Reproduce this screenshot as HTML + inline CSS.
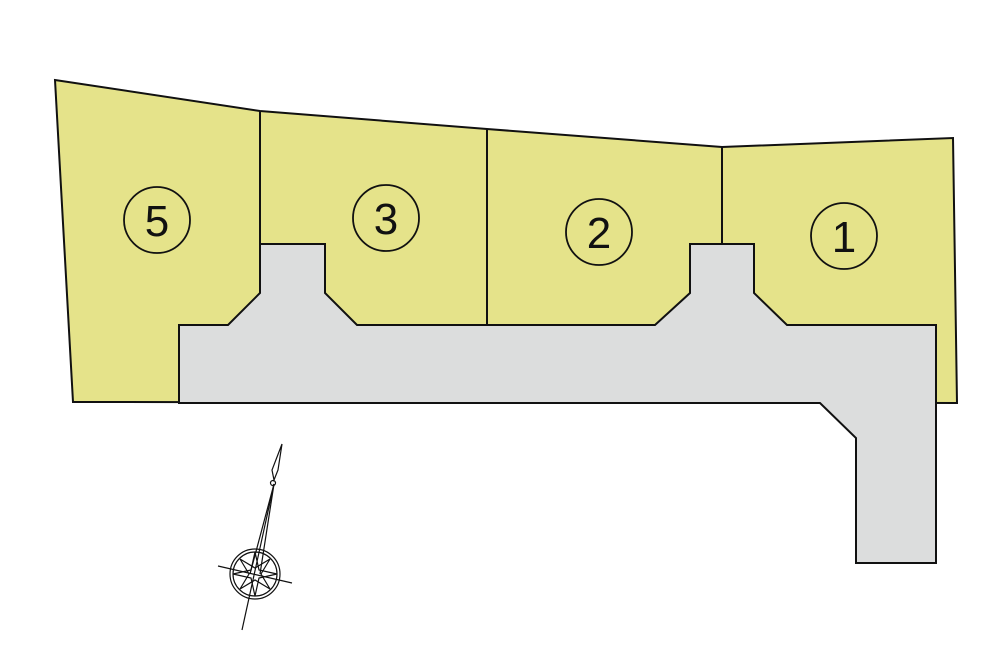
<!DOCTYPE html>
<html><head><style>body{margin:0;background:#fff}svg{display:block}</style></head><body>
<svg width="1000" height="667" viewBox="0 0 1000 667" xmlns="http://www.w3.org/2000/svg">
<polygon points="55,80 260,111 487,129 722,147 953,138 957,403 73,402" fill="#e5e38a" stroke="#111" stroke-width="2"/>
<polygon points="179,325 228,325 260,293 260,244 325,244 325,293 357,325 655,325 690,293 690,244 754,244 754,293 787,325 936,325 936,563 856,563 856,438 820,403 179,403" fill="#dcdddd" stroke="#111" stroke-width="2"/>
<g stroke="#111" stroke-width="2">
<line x1="260" y1="111" x2="260" y2="244"/>
<line x1="487" y1="129" x2="487" y2="325"/>
<line x1="722" y1="147" x2="722" y2="244"/>
</g>
<g fill="none" stroke="#111" stroke-width="1.8">
<circle cx="157" cy="220" r="33"/><circle cx="386" cy="218" r="33"/>
<circle cx="599" cy="232" r="33"/><circle cx="844" cy="236" r="33"/>
</g>
<g font-family="Liberation Sans, sans-serif" font-size="44" text-anchor="middle" fill="#111">
<text x="157" y="236">5</text><text x="386" y="234">3</text>
<text x="599" y="248">2</text><text x="844" y="252">1</text>
</g>
<g stroke="#111" fill="none" stroke-width="1.2">
<circle cx="255" cy="574" r="25"/><circle cx="255" cy="574" r="22"/>
<line x1="218" y1="566" x2="292" y2="583"/>
<line x1="242" y1="630" x2="274" y2="484"/>
<line x1="250" y1="574" x2="274" y2="484"/><line x1="260" y1="574" x2="274" y2="484"/>
<polygon points="282,444 278,470 274,480 272,470"/>
<circle cx="273" cy="483" r="2.5"/>
<polygon points="255,552 259,570 277,574 259,578 255,596 251,578 233,574 251,570"/>
<polygon points="270,559 261,574 270,589 255,580 240,589 249,574 240,559 255,568"/>
</g>
</svg>
</body></html>
